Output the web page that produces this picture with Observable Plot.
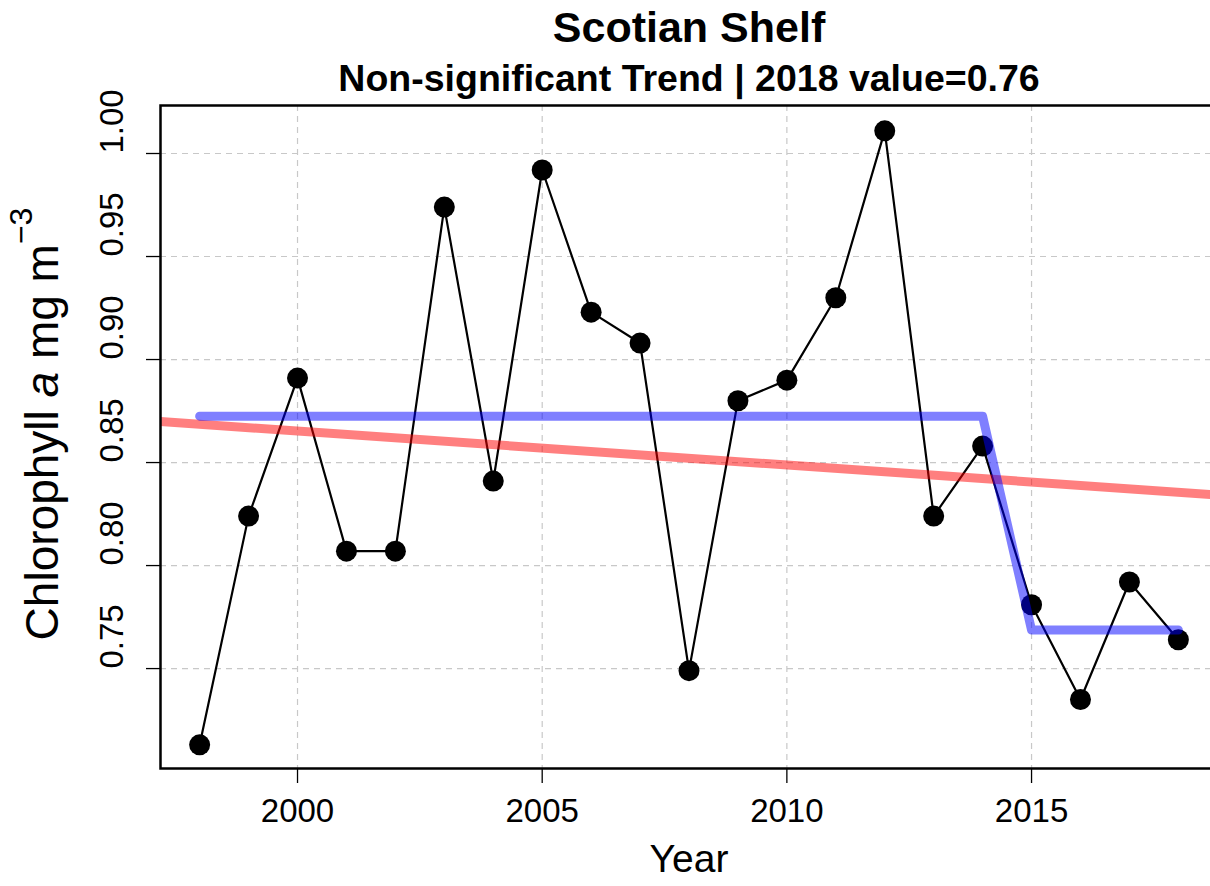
<!DOCTYPE html>
<html>
<head>
<meta charset="utf-8">
<script src="https://cdn.jsdelivr.net/npm/d3@7"></script>
<script src="https://cdn.jsdelivr.net/npm/@observablehq/plot@0.6"></script>
<style>
  html, body { margin: 0; padding: 0; background: #fff; overflow: hidden; }
  #chart svg { display: block; max-width: none !important; width: 1217px !important; height: 886px !important; }
</style>
</head>
<body>
<div id="chart"></div>
<script>
// ---- Data ----
const years = [1998, 1999, 2000, 2001, 2002, 2003, 2004, 2005, 2006, 2007, 2008,
               2009, 2010, 2011, 2012, 2013, 2014, 2015, 2016, 2017, 2018];
const chlValues = [0.713, 0.824, 0.891, 0.807, 0.807, 0.974, 0.841, 0.992, 0.923, 0.908, 0.749,
                   0.880, 0.890, 0.930, 1.011, 0.824, 0.858, 0.781, 0.735, 0.792, 0.764];

// changepoint (mean) step line
const stepYears = [1998, 2014, 2015, 2018];
const stepValues = [0.8725, 0.8725, 0.7687, 0.7687];

// linear trend: value at centre year and slope per year
const trendCentreYear = 2008;
const trendCentreValue = 0.8521;
const trendSlope = -0.00165;

const xTicks = [2000, 2005, 2010, 2015];
const yTicks = [0.75, 0.80, 0.85, 0.90, 0.95, 1.00];

const titleText = "Scotian Shelf";
const subtitleText = "Non-significant Trend | 2018 value=0.76";
const xLabel = "Year";

// ---- Derived tables ----
const xDomain = [1997.2, 2018.8];
const yDomain = [0.7015, 1.0233];
const series = years.map((y, i) => ({year: y, chl: chlValues[i]}));
const step = stepYears.map((y, i) => ({year: y, chl: stepValues[i]}));
const trend = xDomain.map(y => ({year: y, chl: trendCentreValue + trendSlope * (y - trendCentreYear)}));

const FONT = "'Liberation Sans', Arial, Helvetica, sans-serif";

const chart = Plot.plot({
  width: 1217,
  height: 886,
  marginLeft: 160,
  marginRight: 0,
  marginTop: 105,
  marginBottom: 118,
  style: {fontFamily: FONT, fontSize: "33px", color: "black", background: "white"},
  x: {domain: xDomain, label: null},
  y: {domain: yDomain, label: null},
  marks: [
    Plot.gridX(xTicks, {stroke: "#c8c8c8", strokeOpacity: 1, strokeWidth: 1.2, strokeDasharray: "6,5"}),
    Plot.gridY(yTicks, {stroke: "#c8c8c8", strokeOpacity: 1, strokeWidth: 1.2, strokeDasharray: "6,5"}),
    Plot.axisX(xTicks, {tickSize: 15, tickPadding: 15, tickFormat: d => String(d), fontSize: 33, stroke: "black", strokeWidth: 1.3, label: null}),
    Plot.axisY(yTicks, {tickSize: 14, text: null, stroke: "black", strokeWidth: 1.3, label: null}),
    Plot.text(yTicks, {y: d => d, text: d => d.toFixed(2), frameAnchor: "left", dx: -48, rotate: -90, fontSize: 33, fill: "black"}),
    Plot.line(series, {x: "year", y: "chl", stroke: "black", strokeWidth: 2.2}),
    Plot.dot(series, {x: "year", y: "chl", r: 10.5, fill: "black", stroke: "none"}),
    Plot.line(trend, {x: "year", y: "chl", stroke: "red", strokeOpacity: 0.5, strokeWidth: 9, clip: true}),
    Plot.line(step, {x: "year", y: "chl", stroke: "blue", strokeOpacity: 0.5, strokeWidth: 9, strokeLinecap: "round", strokeLinejoin: "round"}),
    Plot.frame({stroke: "black", strokeWidth: 2.5}),
    Plot.text([titleText], {text: d => d, frameAnchor: "top", lineAnchor: "middle", dy: -77, fontSize: 43, fontWeight: "bold", fill: "black"}),
    Plot.text([subtitleText], {text: d => d, frameAnchor: "top", lineAnchor: "middle", dy: -27, fontSize: 37.5, fontWeight: "bold", fill: "black"}),
    Plot.text([xLabel], {text: d => d, frameAnchor: "bottom", lineAnchor: "middle", dy: 91, fontSize: 39, fill: "black"})
  ]
});

document.getElementById("chart").appendChild(chart);

// y-axis title with italic "a" and superscript
const svg = d3.select(chart);
const yt = svg.append("text")
  .attr("transform", "translate(58,424) rotate(-90)")
  .attr("text-anchor", "middle")
  .attr("font-family", FONT)
  .attr("font-size", 46)
  .attr("fill", "black");
yt.append("tspan").text("Chlorophyll ");
yt.append("tspan").attr("font-style", "italic").text("a");
yt.append("tspan").text(" mg m");
yt.append("tspan").attr("font-size", 32).attr("dy", -26).text("\u22123");
</script>
</body>
</html>
